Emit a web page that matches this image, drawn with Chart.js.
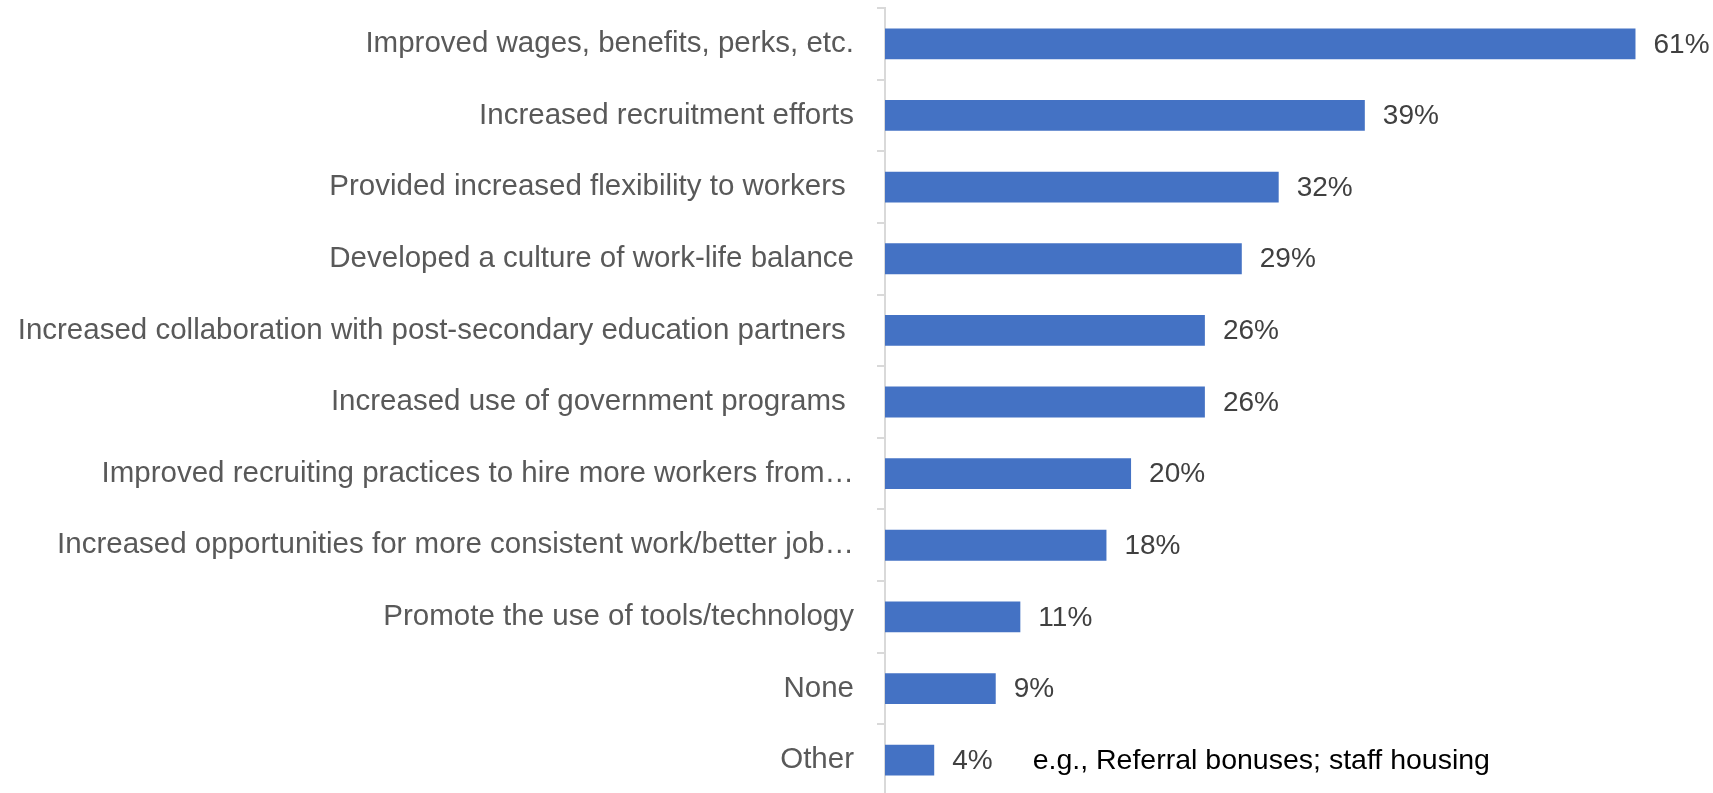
<!DOCTYPE html>
<html>
<head>
<meta charset="utf-8">
<script src="https://cdn.jsdelivr.net/npm/chart.js@4/dist/chart.umd.min.js"></script>
<style>
  html, body { margin: 0; padding: 0; background: #fff; overflow: hidden; }
  #wrap { width: 1713px; height: 796px; position: relative; }
</style>
</head>
<body>
<div id="wrap"><canvas id="chart"></canvas></div>
<script>
const categories = [
    "Improved wages, benefits, perks, etc.",
    "Increased recruitment efforts",
    "Provided increased flexibility to workers ",
    "Developed a culture of work-life balance",
    "Increased collaboration with post-secondary education partners ",
    "Increased use of government programs ",
    "Improved recruiting practices to hire more workers from…",
    "Increased opportunities for more consistent work/better job…",
    "Promote the use of tools/technology",
    "None",
    "Other"
];
const shares = [61, 39, 32, 29, 26, 26, 20, 18, 11, 9, 4];
const otherNote = "e.g., Referral bonuses; staff housing";

const labelFont = "'Liberation Sans Narrow', 'Liberation Sans', sans-serif";

// value labels at the end of each bar, plus the note beside "Other"
const barLabels = {
    id: "barLabels",
    afterDatasetsDraw(chart) {
        const ctx = chart.ctx;
        const meta = chart.getDatasetMeta(0);
        ctx.save();
        ctx.font = "28px " + labelFont;
        ctx.fillStyle = "#404040";
        ctx.textBaseline = "middle";
        ctx.textAlign = "left";
        meta.data.forEach(function (bar, i) {
            ctx.fillText(shares[i] + "%", bar.x + 18, bar.y + 1);
        });
        const last = meta.data[meta.data.length - 1];
        ctx.font = "28.5px " + labelFont;
        ctx.fillStyle = "#000";
        ctx.fillText(otherNote, chart.scales.x.getPixelForValue(12), last.y + 1);
        ctx.restore();
    }
};

new Chart(document.getElementById("chart"), {
    type: "bar",
    data: {
        labels: categories,
        datasets: [{
            data: shares,
            backgroundColor: "#4472C4",
            barPercentage: 0.43,
            categoryPercentage: 1
        }]
    },
    options: {
        indexAxis: "y",
        responsive: true,
        maintainAspectRatio: false,
        animation: false,
        layout: { padding: { top: 8, right: 16, bottom: 0, left: 0 } },
        plugins: {
            legend: { display: false },
            tooltip: { enabled: false }
        },
        scales: {
            x: { display: false, min: 0, max: 66 },
            y: {
                afterFit(scale) {
                    scale.width = 885;
                    scale.paddingTop = 0;
                    scale.paddingBottom = 0;
                },
                border: { display: true, color: "#d9d9d9", width: 2 },
                grid: {
                    display: true,
                    drawOnChartArea: false,
                    drawTicks: true,
                    tickLength: 8,
                    color: "#d9d9d9",
                    lineWidth: 2
                },
                ticks: {
                    color: "#595959",
                    padding: 23,
                    font: { family: labelFont, size: 29.5 }
                }
            }
        }
    },
    plugins: [barLabels]
});
</script>
</body>
</html>
